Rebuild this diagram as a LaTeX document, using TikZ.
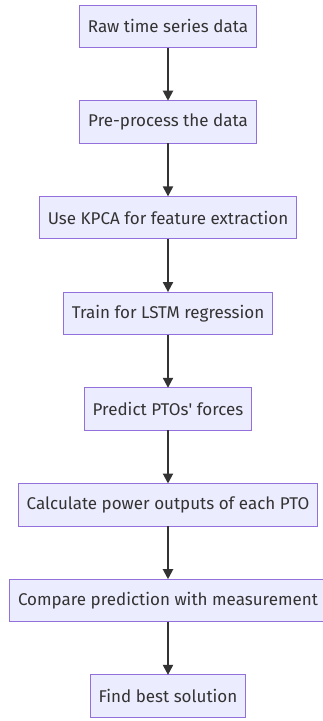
\documentclass[tikz,border=0pt]{standalone}
\usepackage{fontspec}
\setmainfont{Fira Sans}
\usetikzlibrary{positioning,arrows.meta}
\definecolor{boxfill}{HTML}{ECECFF}
\definecolor{boxline}{HTML}{9370DB}
\definecolor{flowline}{HTML}{333333}
\begin{document}
\begin{tikzpicture}[x=1pt,y=1pt,node distance=53.2pt,
  stage/.style={draw=boxline,fill=boxfill,line width=1pt,minimum height=42.5pt,
    outer sep=0pt,inner xsep=8.5pt,text=flowline,font=\fontsize{17}{20}\selectfont},
  flow/.style={draw=flowline,line width=2pt,-{Triangle[length=10pt,width=10pt]}}]
\useasboundingbox (0,0) rectangle (322,-721);
% steps of the pipeline
\node[stage,anchor=north] (raw) at (168,-5) {Raw time series data};
\node[stage,below=of raw] (prep) {Pre-process the data};
\node[stage,below=of prep] (kpca) {Use KPCA for feature extraction};
\node[stage,below=of kpca] (lstm) {Train for LSTM regression};
\node[stage,below=of lstm] (pred) {Predict PTOs\textquotesingle\ forces};
\node[stage,below=of pred] (power) {Calculate power outputs of each PTO};
\node[stage,below=of power] (comp) {Compare prediction with measurement};
\node[stage,below=of comp] (best) {Find best solution};
% arrows
\draw[flow] (raw) -- (prep);
\draw[flow] (prep) -- (kpca);
\draw[flow] (kpca) -- (lstm);
\draw[flow] (lstm) -- (pred);
\draw[flow] (pred) -- (power);
\draw[flow] (power) -- (comp);
\draw[flow] (comp) -- (best);
\end{tikzpicture}
\end{document}
